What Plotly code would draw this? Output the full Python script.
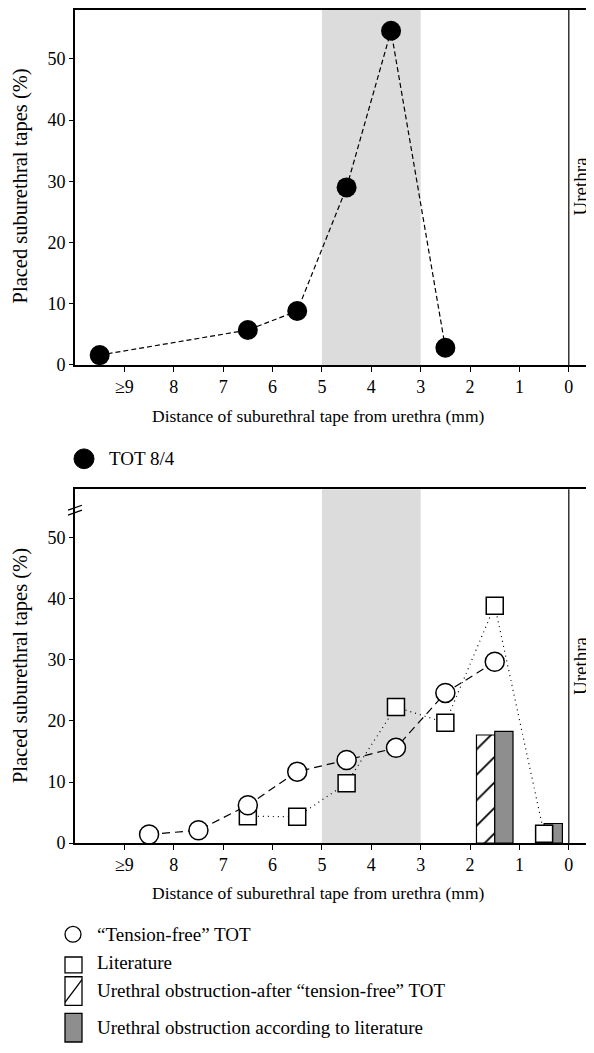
import plotly.graph_objects as go

# The page body has an 8 px margin, so the figure is drawn 8 px smaller
# and all reference-pixel positions are offset by 8.
OFF = 8
W, H = 594 - OFF, 1053 - OFF
FONT = "Liberation Serif"

# ---- data ----
tick_vals = [9, 8, 7, 6, 5, 4, 3, 2, 1, 0]
tick_text = ["≥9", "8", "7", "6", "5", "4", "3", "2", "1", "0"]
y_ticks = [0, 10, 20, 30, 40, 50]

tot84_x = [9.5, 6.5, 5.5, 4.5, 3.6, 2.5]
tot84_y = [1.6, 5.7, 8.8, 29.0, 54.6, 2.8]

tf_x = [8.5, 7.5, 6.5, 5.5, 4.5, 3.5, 2.5, 1.5]
tf_y = [1.4, 2.1, 6.2, 11.7, 13.6, 15.6, 24.6, 29.7]

lit_x = [6.5, 5.5, 4.5, 3.5, 2.5, 1.5, 0.5]
lit_y = [4.4, 4.3, 9.8, 22.3, 19.7, 38.9, 1.5]

obs_tf_x = [1.5]
obs_tf_y = [17.7]

obs_lit_x = [1.5, 0.5]
obs_lit_y = [18.3, 3.2]

shade_band = (5, 3)
x_range = [10, -0.51]
y_range = [0, 58]


def px(x):
    return (x - OFF) / W


def py(y):
    return 1 - (y - OFF) / H


fig = go.Figure()

# top panel
fig.add_trace(go.Scatter(
    x=tot84_x, y=tot84_y, mode="lines+markers", xaxis="x", yaxis="y",
    line=dict(color="black", width=1.2, dash="5px,3px"),
    marker=dict(symbol="circle", size=20, color="black"),
    showlegend=False, name="TOT 8/4"))

# bottom panel bars
fig.add_trace(go.Bar(
    x=obs_tf_x, y=obs_tf_y, xaxis="x2", yaxis="y2", width=0.37, offset=0,
    marker=dict(color="white", line=dict(color="black", width=1.2),
                pattern=dict(shape="/", fgcolor="black", bgcolor="white",
                             fgopacity=1, size=18, solidity=0.1)),
    showlegend=False, name="Urethral obstruction-after “tension-free” TOT"))
fig.add_trace(go.Bar(
    x=obs_lit_x, y=obs_lit_y, xaxis="x2", yaxis="y2", width=0.37, offset=-0.37,
    marker=dict(color="#8e8e8e", line=dict(color="black", width=1.2)),
    showlegend=False, name="Urethral obstruction according to literature"))

fig.add_trace(go.Scatter(
    x=lit_x, y=lit_y, mode="lines+markers", xaxis="x2", yaxis="y2",
    line=dict(color="black", width=1.2, dash="1px,4px"),
    marker=dict(symbol="square", size=17, color="white",
                line=dict(color="black", width=1.5)),
    showlegend=False, name="Literature"))
fig.add_trace(go.Scatter(
    x=tf_x, y=tf_y, mode="lines+markers", xaxis="x2", yaxis="y2",
    line=dict(color="black", width=1.2, dash="8px,5px"),
    marker=dict(symbol="circle", size=19, color="white",
                line=dict(color="black", width=1.5)),
    showlegend=False, name="“Tension-free” TOT"))

top_dom = [py(367), py(8)]
bot_dom = [py(850.7), py(492.7)]
x_dom = [px(75), 1.0]

xax = dict(range=x_range, tickvals=tick_vals, ticktext=tick_text,
           showline=True, linecolor="black", linewidth=1.6, mirror=True,
           ticks="outside", ticklen=5, tickwidth=1.4, tickcolor="black",
           showgrid=False, zeroline=False, domain=x_dom,
           tickfont=dict(family=FONT, size=18, color="black"))
yax = dict(range=y_range, tickvals=y_ticks, showline=True, linecolor="black",
           linewidth=1.6, ticks="outside", ticklen=4, tickwidth=1.4,
           tickcolor="black", showgrid=False, zeroline=False,
           tickfont=dict(family=FONT, size=18, color="black"))

shapes = []
for xr, yr in [("x", "y"), ("x2", "y2")]:
    shapes.append(dict(type="rect", xref=xr, yref=yr + " domain",
                       x0=shade_band[0], x1=shade_band[1], y0=0, y1=1,
                       fillcolor="#dcdcdc", line=dict(width=0), layer="below"))
    shapes.append(dict(type="line", xref=xr, yref=yr + " domain",
                       x0=0, x1=0, y0=0, y1=1,
                       line=dict(color="black", width=1.2)))

# axis break marks on bottom y axis
for yb in (512, 517):
    shapes.append(dict(type="line", xref="paper", yref="paper",
                       x0=px(68), x1=px(82), y0=py(yb + 2), y1=py(yb - 3),
                       line=dict(color="black", width=1.3)))

# legend symbols
shapes.append(dict(type="circle", xref="paper", yref="paper",
                   x0=px(74), x1=px(94), y0=py(472), y1=py(452),
                   fillcolor="black", line=dict(color="black", width=1)))
shapes.append(dict(type="circle", xref="paper", yref="paper",
                   x0=px(65), x1=px(81), y0=py(951), y1=py(935),
                   fillcolor="white", line=dict(color="black", width=1.3)))
shapes.append(dict(type="rect", xref="paper", yref="paper",
                   x0=px(65), x1=px(82), y0=py(982), y1=py(966),
                   fillcolor="white", line=dict(color="black", width=1.3)))
shapes.append(dict(type="rect", xref="paper", yref="paper",
                   x0=px(65), x1=px(82), y0=py(1015), y1=py(986),
                   fillcolor="white", line=dict(color="black", width=1.3)))
shapes.append(dict(type="line", xref="paper", yref="paper",
                   x0=px(65), x1=px(82), y0=py(1012), y1=py(989),
                   line=dict(color="black", width=1.3)))
shapes.append(dict(type="rect", xref="paper", yref="paper",
                   x0=px(65), x1=px(82), y0=py(1052), y1=py(1023),
                   fillcolor="#8e8e8e", line=dict(color="black", width=1.3)))

ytf = dict(family=FONT, size=20.5, color="black")
utf = dict(family=FONT, size=19, color="black")
xtf = dict(family=FONT, size=17.5, color="black")
ltf = dict(family=FONT, size=19, color="black")
ann = []
for yc in (186.5, 671.7):
    ann.append(dict(text="Placed suburethral tapes (%)", xref="paper", yref="paper",
                    x=px(20), y=py(yc), textangle=-90, showarrow=False,
                    xanchor="center", yanchor="middle", font=ytf))
    ann.append(dict(text="Urethra", xref="paper", yref="paper",
                    x=px(580), y=py(yc), textangle=-90, showarrow=False,
                    xanchor="center", yanchor="middle", font=utf))
for yc in (419, 901.7):
    ann.append(dict(text="Distance of suburethral tape from urethra (mm)",
                    xref="paper", yref="paper", x=px(318.5), y=py(yc),
                    showarrow=False, xanchor="center", yanchor="middle", font=xtf))

legend_items = [
    ("TOT 8/4", 107, 462),
    ("“Tension-free” TOT", 95, 943),
    ("Literature", 95, 972),
    ("Urethral obstruction-after “tension-free” TOT", 95, 1000),
    ("Urethral obstruction according to literature", 95, 1037),
]
for t, x, y in legend_items:
    ann.append(dict(text=t, xref="paper", yref="paper", x=px(x), y=py(y),
                    showarrow=False, xanchor="left", yanchor="middle", font=ltf))

fig.update_layout(
    width=W, height=H, margin=dict(l=0, r=0, t=0, b=0),
    paper_bgcolor="white", plot_bgcolor="white",
    xaxis=dict(xax, anchor="y"),
    yaxis=dict(yax, domain=top_dom, anchor="x"),
    xaxis2=dict(xax, anchor="y2"),
    yaxis2=dict(yax, domain=bot_dom, anchor="x2"),
    shapes=shapes, annotations=ann, barmode="overlay",
    font=dict(family=FONT, color="black"),
)

fig.write_html("out.html")
